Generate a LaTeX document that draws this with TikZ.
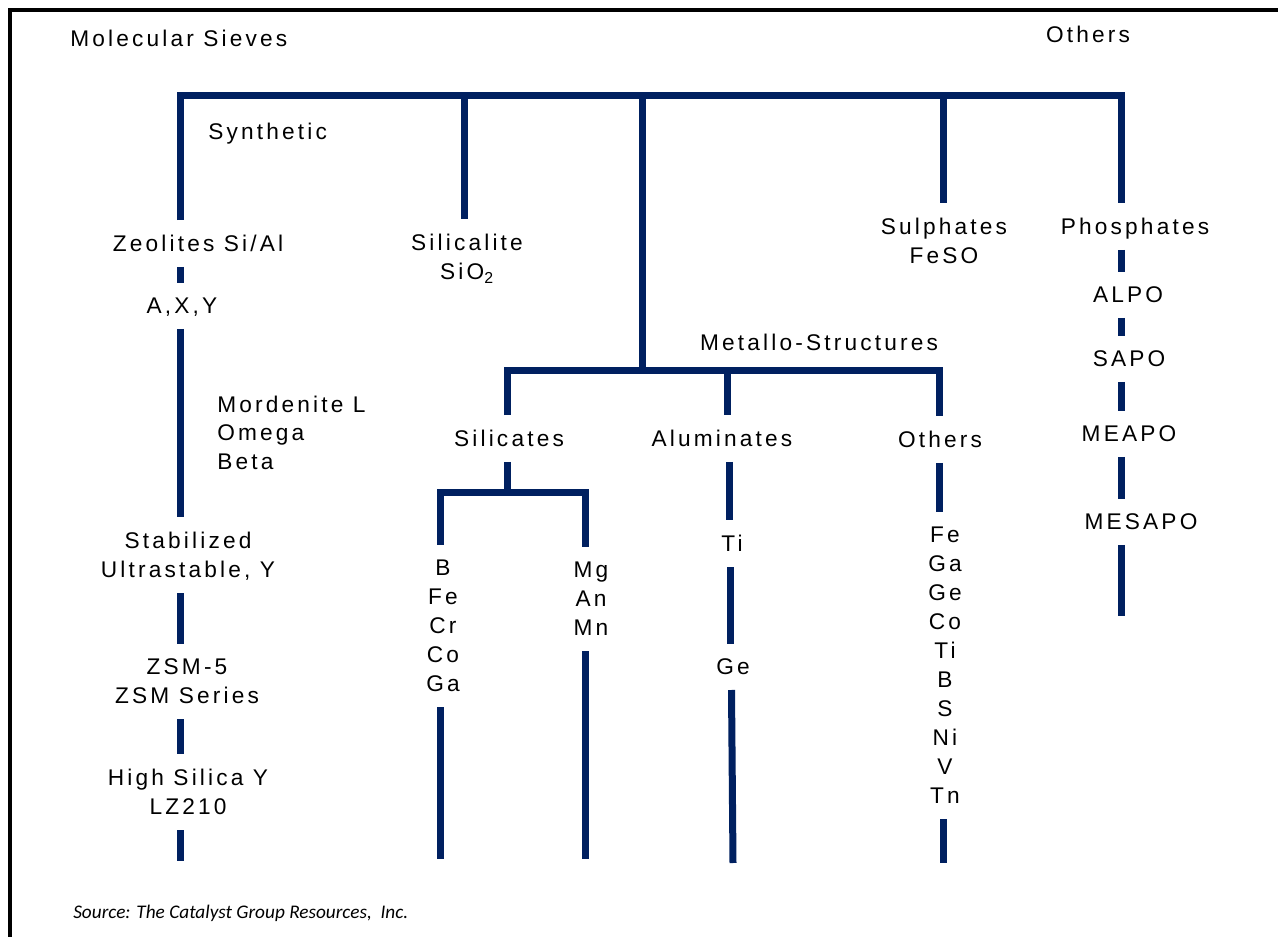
\documentclass[tikz,border=0pt]{standalone}
\usepackage{fontspec}
\setmainfont{Liberation Sans}[LetterSpace=14]
\newfontfamily\srcfont{Carlito}
\definecolor{navy}{RGB}{0,32,96}
\begin{document}
\begin{tikzpicture}[x=0.75pt,y=-0.75pt,
  trunk/.style={draw=navy,line width=5.25pt,line cap=butt,line join=miter},
  frame/.style={draw=black,line width=2.3pt},
  lab/.style={font=\fontsize{17}{21.75}\selectfont, inner xsep=1pt, inner ysep=11.25pt, text depth=0pt, align=center, anchor=south},
  plain/.style={font=\fontsize{17}{21.75}\selectfont, inner sep=0pt},
  src/.style={font=\fontsize{14.45}{17}\srcfont\itshape, inner sep=0pt, anchor=base west}
  ]
\useasboundingbox (0,0) rectangle (1278,937);
\draw[frame] (10,937) -- (10,10) -- (1278,10);

% titles
\node[plain, anchor=base west] (title) at (70,47) {Molecular Sieves};
\node[plain, anchor=base] (othTop) at (1088,43) {Others};
\node[plain, anchor=base west] (synth) at (208,140) {Synthetic};
\node[plain, anchor=base] (metallo) at (819,351) {Metallo-Structures};
\node[plain, anchor=base west, align=left] (mord) at (217,470) {Mordenite L\\Omega\\Beta};

% zeolite column
\node[lab] (zeo) at (198,267) {Zeolites Si/Al};
\node[lab] (axy) at (182,329) {A,X,Y};
\node[lab] (stab) at (188,593) {Stabilized\\Ultrastable, Y};
\node[lab] (zsm) at (187,719) {ZSM-5\\ZSM Series};
\node[lab] (hsy) at (188,830) {High Silica Y\\LZ210};

\node[lab] (silcl) at (467,295) {Silicalite\\SiO\textsubscript{2}};
\node[lab] (sulph) at (944,279) {Sulphates\\FeSO};

% phosphates column
\node[lab] (phos) at (1135,250) {Phosphates};
\node[lab] (alpo) at (1128,318) {ALPO};
\node[lab] (sapo) at (1129,382) {SAPO};
\node[lab] (meapo) at (1129,457) {MEAPO};
\node[lab] (mesapo) at (1141,545) {MESAPO};

% metallo-structures
\node[lab] (silic) at (509,462) {Silicates};
\node[lab] (alum) at (722,462) {Aluminates};
\node[lab] (oth) at (940,463) {Others};
\node[lab] (bcol) at (443,707) {B\\Fe\\Cr\\Co\\Ga};
\node[lab] (mcol) at (591,651) {Mg\\An\\Mn};
\node[lab] (ti) at (732,567) {Ti};
\node[lab] (ge) at (733,690) {Ge};
\node[lab] (fecol) at (945,819) {Fe\\Ga\\Ge\\Co\\Ti\\B\\S\\Ni\\V\\Tn};

\node[src] (source) at (73,918) {Source: The Catalyst Group Resources,~~Inc.};

% coordinates
\coordinate (cZ) at (180,96);
\coordinate (cSl) at (464,96);
\coordinate (cM) at (642,96);
\coordinate (cSu) at (943,96);
\coordinate (cP) at (1121,96);
\coordinate (mL) at (507,371);
\coordinate (mM) at (642,371);
\coordinate (mA) at (727,371);
\coordinate (mR) at (939,371);
\coordinate (sL) at (440,493);
\coordinate (sM) at (507,493);
\coordinate (sR) at (585,493);
\coordinate (a2) at (729,0);
\coordinate (a3) at (730.5,0);
\coordinate (a4) at (731.5,0);
\coordinate (eZ) at (180,861);
\coordinate (eP) at (1121,616);
\coordinate (eB) at (440,859);
\coordinate (eMg) at (585,859);
\coordinate (eAl) at (733,863);
\coordinate (eO) at (943,863);

% main tree
\draw[trunk] (cZ |- zeo.north) -- (cZ) -- (cP) -- (cP |- phos.north);
\draw[trunk] (cSl) -- (cSl |- silcl.north);
\draw[trunk] (cSu) -- (cSu |- sulph.north);
\draw[trunk] (cM) -- (mM);

% zeolites
\draw[trunk] (cZ |- zeo.south) -- (cZ |- axy.north);
\draw[trunk] (cZ |- axy.south) -- (cZ |- stab.north);
\draw[trunk] (cZ |- stab.south) -- (cZ |- zsm.north);
\draw[trunk] (cZ |- zsm.south) -- (cZ |- hsy.north);
\draw[trunk] (cZ |- hsy.south) -- (eZ);

% phosphates
\draw[trunk] (cP |- phos.south) -- (cP |- alpo.north);
\draw[trunk] (cP |- alpo.south) -- (cP |- sapo.north);
\draw[trunk] (cP |- sapo.south) -- (cP |- meapo.north);
\draw[trunk] (cP |- meapo.south) -- (cP |- mesapo.north);
\draw[trunk] (cP |- mesapo.south) -- (eP);

% metallo
\draw[trunk] (mL |- silic.north) -- (mL) -- (mR) -- (mR |- oth.north);
\draw[trunk] (mA) -- (mA |- alum.north);
\draw[trunk] (mL |- silic.south) -- (sM);
\draw[trunk] (sL |- bcol.north) -- (sL) -- (sR) -- (sR |- mcol.north);
\draw[trunk] (sL |- bcol.south) -- (eB);
\draw[trunk] (sR |- mcol.south) -- (eMg);
\draw[trunk] (a2 |- alum.south) -- (a2 |- ti.north);
\draw[trunk] (a3 |- ti.south) -- (a3 |- ge.north);
\draw[trunk] (a4 |- ge.south) -- (eAl);
\draw[trunk] (mR |- oth.south) -- (mR |- fecol.north);
\draw[trunk] (eO |- fecol.south) -- (eO);
\end{tikzpicture}
\end{document}
